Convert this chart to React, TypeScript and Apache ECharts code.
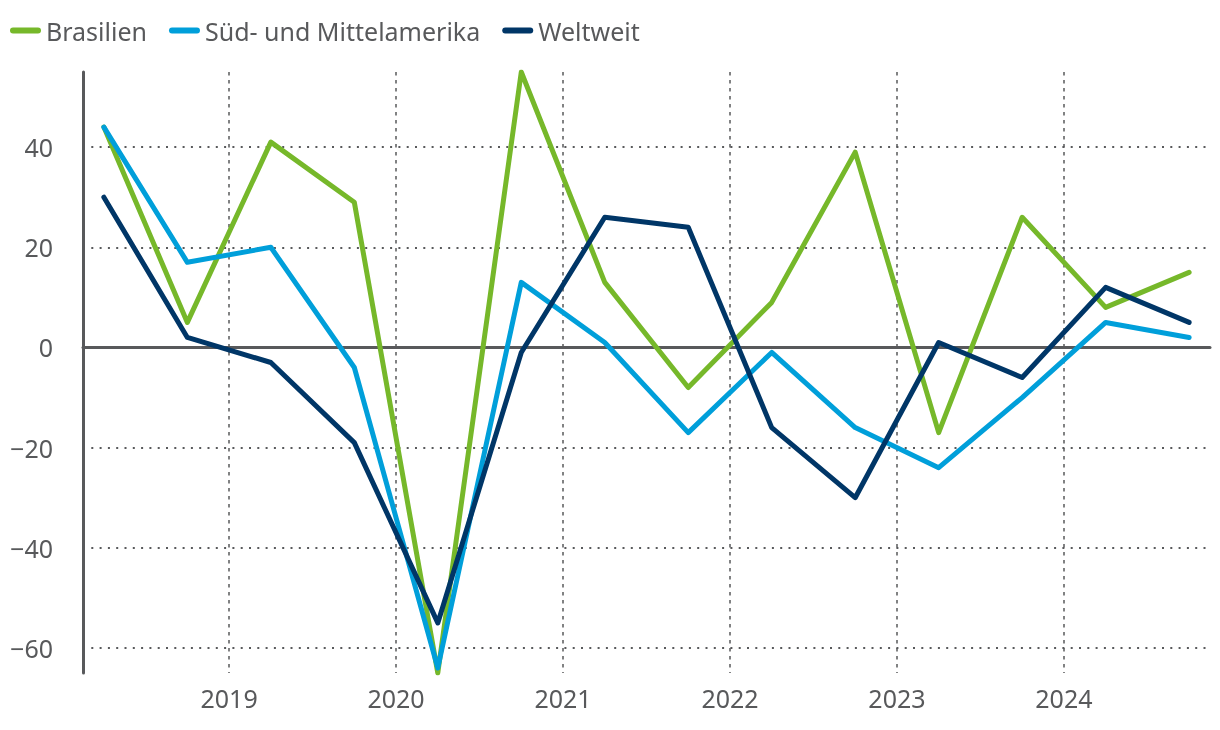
import React, { useEffect, useRef } from "react";
import * as echarts from "echarts";

const periods = [2018.25, 2018.75, 2019.25, 2019.75, 2020.25, 2020.75, 2021.25, 2021.75, 2022.25, 2022.75, 2023.25, 2023.75, 2024.25, 2024.75];
const brasilien = [44, 5, 41, 29, -65, 55, 13, -8, 9, 39, -17, 26, 8, 15];
const suedMittelamerika = [44, 17, 20, -4, -64, 13, 1, -17, -1, -16, -24, -10, 5, 2];
const weltweit = [30, 2, -3, -19, -55, -1, 26, 24, -16, -30, 1, -6, 12, 5];
const seriesNames = ["Brasilien", "Süd- und Mittelamerika", "Weltweit"];
const seriesColors = ["#76b82a", "#009fda", "#003667"];

const X_MIN = 2018.125;
const X_MAX = 2024.875;
const FONT = "Noto Sans";
const GRAY = "#58595b";

export default function App() {
  const ref = useRef<HTMLDivElement>(null);
  useEffect(() => {
    if (!ref.current) return;
    const chart = echarts.init(ref.current, null, { renderer: "svg" });
    const values = [brasilien, suedMittelamerika, weltweit];
    chart.setOption({
      animation: false,
      textStyle: { fontFamily: FONT },
      grid: { left: 83, right: 10, top: 72, bottom: 57, containLabel: false },
      legend: {
        left: 5,
        top: 13,
        itemWidth: 31,
        itemHeight: 6,
        itemGap: 22,
        icon: "path://M3,0H28A3,3,0,0,1,28,6H3A3,3,0,0,1,3,0Z",
        textStyle: { color: GRAY, fontSize: 25, fontFamily: FONT },
        data: seriesNames,
      },
      xAxis: [
        {
          type: "value",
          min: X_MIN,
          max: X_MAX,
          position: "bottom",
          minInterval: 1,
          maxInterval: 1,
          splitNumber: 7,
          axisLine: { show: true, onZero: true, lineStyle: { color: GRAY, width: 3 } },
          axisTick: { show: false },
          axisLabel: { show: false },
          splitLine: {
            show: true,
            showMinLine: false,
            showMaxLine: false,
            lineStyle: { color: GRAY, width: 1.5, type: [3.5, 4.5] },
          },
        },
        {
          type: "value",
          min: X_MIN,
          max: X_MAX,
          position: "bottom",
          minInterval: 1,
          maxInterval: 1,
          splitNumber: 7,
          axisLine: { show: false, onZero: false },
          axisTick: { show: false },
          splitLine: { show: false },
          axisLabel: {
            show: true,
            margin: 12,
            color: GRAY,
            fontSize: 25,
            fontFamily: FONT,
            formatter: (v: number) => (Math.abs(v - Math.round(v)) < 1e-6 ? String(Math.round(v)) : ""),
          },
        },
      ],
      yAxis: {
        type: "value",
        min: -65,
        max: 55,
        minInterval: 20,
        maxInterval: 20,
        splitNumber: 6,
        axisLine: { show: true, onZero: false, lineStyle: { color: GRAY, width: 3 } },
        axisTick: { show: false },
        axisLabel: {
          margin: 30,
          color: GRAY,
          fontSize: 25,
          fontFamily: FONT,
          formatter: (v: number) => (Math.round(v) % 20 === 0 ? String(Math.round(v)).replace("-", "\u2212") : ""),
        },
        splitLine: {
          show: true,
          showMinLine: false,
          showMaxLine: false,
          lineStyle: { color: GRAY, width: 2, type: [2, 6.3] },
        },
      },
      series: seriesNames.map((name, i) => ({
        name,
        type: "line",
        xAxisIndex: 0,
        showSymbol: false,
        symbol: "none",
        color: seriesColors[i],
        lineStyle: { width: 5, color: seriesColors[i], cap: "round", join: "round" },
        data: periods.map((p, k) => [p, values[i][k]]),
      })),
    });
    return () => chart.dispose();
  }, []);
  return <div ref={ref} style={{ position: "fixed", left: 0, top: 0, width: 1220, height: 730 }} />;
}
